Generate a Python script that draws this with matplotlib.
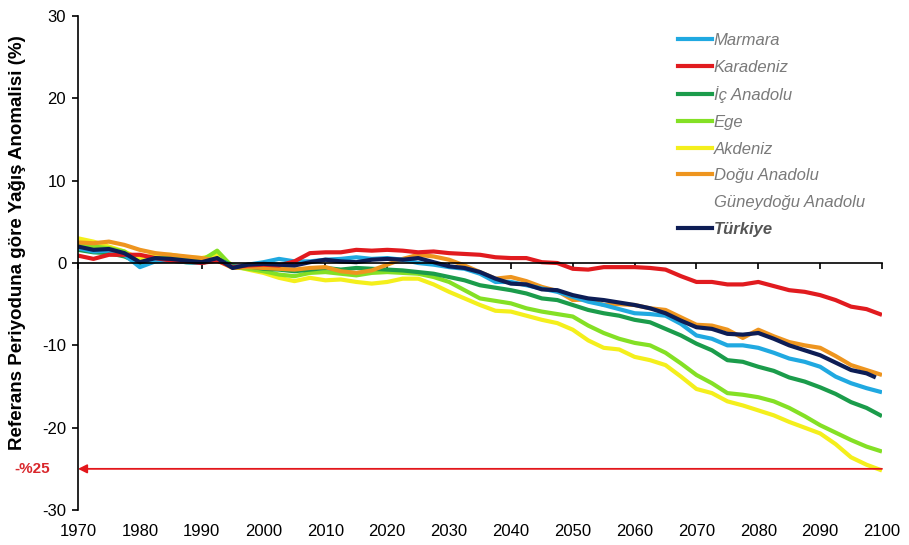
import matplotlib.pyplot as plt
from matplotlib.lines import Line2D
import numpy as np

plt.rcParams['font.family'] = ['Liberation Sans', 'DejaVu Sans']
plt.rcParams['axes.unicode_minus'] = False

# yıllar (2,5 yıllık adım), Türkiye serisi 2099'da bitiyor
years = np.arange(1970, 2100.1, 2.5)
years_tr = list(years[:-1]) + [2099]

marmara = [1.8, 1.4, 1.5, 1.0, -0.5, 0.2, 0.3, 0.1, 0.0, 0.5,
           -0.5, -0.2, 0.1, 0.5, 0.2, 0.2, 0.4, 0.5, 0.7, 0.5,
           0.6, 0.4, 0.0, -0.2, -0.5, -0.7, -1.3, -2.3, -2.3, -2.7,
           -3.1, -3.5, -4.1, -4.7, -5.1, -5.6, -6.1, -6.2, -6.4, -7.4,
           -8.8, -9.2, -10.0, -10.0, -10.3, -10.9, -11.6, -12.0, -12.6, -13.8,
           -14.6, -15.2, -15.7]
karadeniz = [0.9, 0.5, 1.0, 1.0, 1.0, 0.6, 0.3, 0.2, 0.0, 0.3,
             -0.5, -0.3, -0.2, -0.3, 0.2, 1.2, 1.3, 1.3, 1.6, 1.5,
             1.6, 1.5, 1.3, 1.4, 1.2, 1.1, 1.0, 0.7, 0.6, 0.6,
             0.1, 0.0, -0.7, -0.8, -0.5, -0.5, -0.5, -0.6, -0.8, -1.6,
             -2.3, -2.3, -2.6, -2.6, -2.3, -2.8, -3.3, -3.5, -3.9, -4.5,
             -5.3, -5.6, -6.3]
ic_anadolu = [1.6, 1.3, 1.2, 0.8, 0.0, 0.4, 0.3, 0.1, 0.0, 0.5,
              -0.3, -0.4, -0.7, -0.8, -1.0, -0.8, -0.6, -0.8, -0.6, -0.7,
              -0.8, -0.9, -1.1, -1.3, -1.7, -2.1, -2.7, -3.0, -3.3, -3.7,
              -4.3, -4.5, -5.1, -5.7, -6.1, -6.4, -6.9, -7.2, -8.0, -8.8,
              -9.8, -10.6, -11.8, -12.0, -12.6, -13.1, -13.9, -14.4, -15.1, -15.9,
              -16.9, -17.6, -18.6]
ege = [2.3, 2.0, 1.8, 1.4, 0.0, 0.6, 0.7, 0.4, 0.3, 1.5,
       -0.5, -0.7, -1.0, -1.4, -1.6, -1.2, -1.1, -1.3, -1.5, -1.2,
       -1.1, -1.2, -1.3, -1.7, -2.3, -3.3, -4.3, -4.6, -4.9, -5.5,
       -5.9, -6.2, -6.5, -7.6, -8.5, -9.2, -9.7, -10.0, -10.9, -12.2,
       -13.6, -14.6, -15.8, -16.0, -16.3, -16.8, -17.6, -18.6, -19.7, -20.6,
       -21.5, -22.3, -22.9]
akdeniz = [3.0, 2.6, 2.0, 1.4, 0.5, 1.0, 1.0, 0.7, 0.6, 1.0,
           -0.3, -0.8, -1.2, -1.8, -2.2, -1.8, -2.1, -2.0, -2.3, -2.5,
           -2.3, -1.9, -1.9, -2.6, -3.5, -4.3, -5.1, -5.8, -5.9, -6.4,
           -6.9, -7.3, -8.1, -9.4, -10.3, -10.5, -11.4, -11.8, -12.4, -13.8,
           -15.3, -15.8, -16.8, -17.3, -17.9, -18.5, -19.3, -20.0, -20.7, -22.0,
           -23.6, -24.5, -25.2]
dogu_anadolu = [2.5, 2.4, 2.6, 2.2, 1.6, 1.2, 1.0, 0.8, 0.6, 0.3,
                -0.6, -0.5, -0.6, -0.7, -0.8, -0.6, -0.5, -1.0, -1.2, -0.9,
                -0.2, 0.5, 1.0, 0.8, 0.4, -0.3, -1.1, -1.9, -1.7, -2.2,
                -2.9, -3.4, -4.5, -4.4, -5.1, -5.0, -5.1, -5.5, -5.7, -6.6,
                -7.5, -7.6, -8.1, -9.1, -8.1, -8.9, -9.6, -10.0, -10.3, -11.3,
                -12.4, -13.0, -13.6]
turkiye = [2.0, 1.6, 1.7, 1.2, 0.1, 0.6, 0.5, 0.3, 0.1, 0.6,
           -0.6, -0.2, -0.1, -0.2, -0.3, 0.1, 0.4, 0.2, 0.1, 0.4,
           0.5, 0.4, 0.6, 0.1, -0.4, -0.6, -1.1, -1.9, -2.5, -2.6,
           -3.2, -3.3, -3.9, -4.3, -4.5, -4.8, -5.1, -5.5, -6.1, -7.0,
           -7.8, -8.0, -8.6, -8.7, -8.5, -9.2, -10.0, -10.6, -11.2, -12.1,
           -13.0, -13.4, -13.9]

esik = -25  # %25 azalma eşiği

fig = plt.figure(figsize=(9.09, 5.45), dpi=100)
ax = fig.add_axes([0.0858, 0.0642, 0.8845, 0.9064])

ax.plot(years, akdeniz, color='#f4ef1c', lw=3, solid_capstyle='butt')
ax.plot(years, ege, color='#84e025', lw=3, solid_capstyle='butt')
ax.plot(years, ic_anadolu, color='#1b9c4b', lw=3, solid_capstyle='butt')
ax.plot(years, dogu_anadolu, color='#ee951f', lw=3, solid_capstyle='butt')
ax.plot(years, marmara, color='#20a9e1', lw=3, solid_capstyle='butt')
ax.plot(years, karadeniz, color='#e11b1f', lw=3, solid_capstyle='butt')
ax.plot(years_tr, turkiye, color='#0d1d55', lw=3, solid_capstyle='butt')

# -%25 oku
ax.annotate('', xy=(1970, esik), xytext=(2100, esik),
            arrowprops=dict(arrowstyle='-|>', color='#e3161b', lw=1.3,
                            mutation_scale=13, shrinkA=0, shrinkB=0))
ax.annotate('-%25', xy=(1970, esik), xytext=(-28, 0), textcoords='offset pixels',
            ha='right', va='center', color='#d9262b', fontsize=11, fontweight='bold')

ax.set_xlim(1970, 2100)
ax.set_ylim(-30, 30)
ax.set_yticks([-30, -20, -10, 0, 10, 20, 30])
ax.tick_params(axis='y', direction='out', length=4.5, width=1.2, labelsize=12, pad=4)

ax.spines['top'].set_visible(False)
ax.spines['right'].set_visible(False)
ax.spines['left'].set_linewidth(1.2)
ax.spines['bottom'].set_position(('data', 0))
ax.spines['bottom'].set_linewidth(1.2)
decades = list(range(1970, 2101, 10))
ax.set_xticks(decades)
ax.tick_params(axis='x', direction='out', length=4.5, width=1.2, labelbottom=False)

sec = ax.secondary_xaxis('bottom')
sec.set_xticks(decades)
sec.tick_params(length=0, labelsize=12, pad=10)
sec.spines['bottom'].set_visible(False)

fig.text(18 / 909, 1 - 243 / 545, 'Referans Periyoduna göre Yağış Anomalisi (%)',
         rotation=90, ha='center', va='center', fontsize=13.5, fontweight='bold')

# lejant
handles = [Line2D([], [], color=c, lw=3) for c in
           ['#20a9e1', '#e11b1f', '#1b9c4b', '#84e025', '#f4ef1c', '#ee951f', 'none', '#0d1d55']]
labels = ['Marmara', 'Karadeniz', 'İç Anadolu', 'Ege', 'Akdeniz', 'Doğu Anadolu',
          'Güneydoğu Anadolu', 'Türkiye']
leg = ax.legend(handles, labels, loc='upper left', bbox_to_anchor=(678 / 909, 1 - 33 / 545),
                bbox_transform=fig.transFigure, frameon=False, borderpad=0, borderaxespad=0,
                handlelength=2.05, handletextpad=0.08, labelspacing=0.7,
                prop={'size': 12, 'style': 'italic'})
for t in leg.get_texts():
    t.set_color('#7a7a7a')
leg.get_texts()[-1].set_fontweight('bold')
leg.get_texts()[-1].set_color('#555555')

plt.savefig('out.png', dpi=100)
